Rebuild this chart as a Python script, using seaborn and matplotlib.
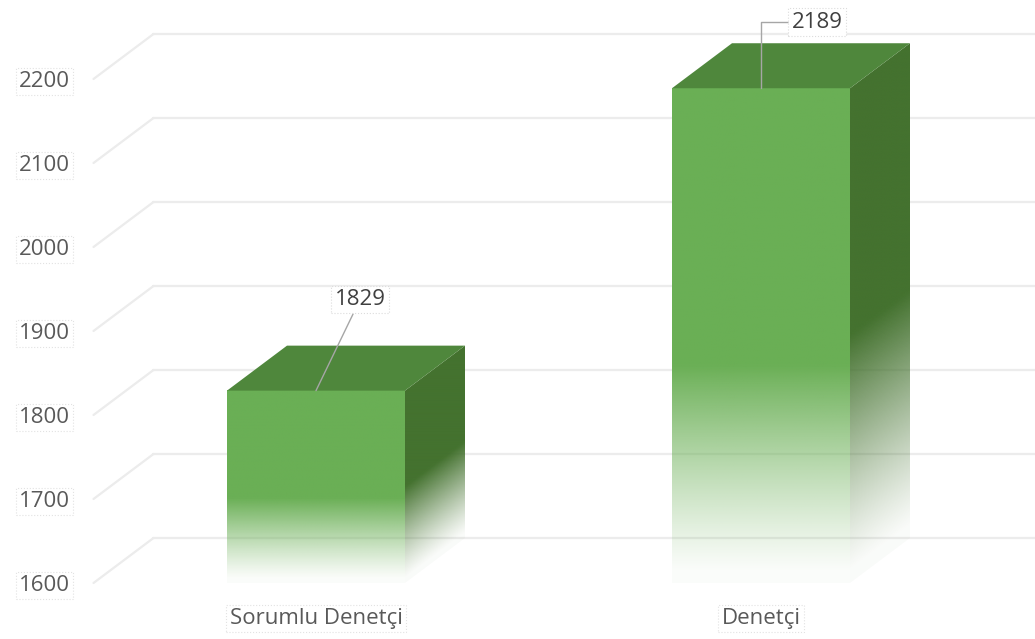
import numpy as np
import matplotlib
matplotlib.use("Agg")
import matplotlib.pyplot as plt
from matplotlib.patches import Polygon
import seaborn as sns

# ─── DATA ─────────────────────────────────────────────────────────────────────
CATEGORIES = ["Sorumlu Denetçi", "Denetçi"]
VALUES     = [1829, 2189]
Y_TICKS    = [1600, 1700, 1800, 1900, 2000, 2100, 2200]
Y_LIMITS   = (1600, 2250)

# ─── STYLE ────────────────────────────────────────────────────────────────────
FRONT_COLOR = "#6aaf55"
TOP_COLOR   = "#4f873c"
SIDE_COLOR  = "#44722f"
GRID_COLOR  = "#ececec"
TEXT_COLOR  = "#595959"
LEADER_COL  = "#a6a6a6"
FONT_SIZE   = 16
DEPTH_PX    = (60, 45)               # 3-D depth offset in pixels (right, up)
LABEL_OFFS  = [(44, 91), (56, 66)]   # data label offsets in pixels
BOX_STYLE   = dict(boxstyle="square,pad=0.15", fc="white", ec="#dcdcdc", ls=":", lw=0.8)

sns.set_theme(style="white")
plt.rcParams["font.family"] = ["Open Sans", "DejaVu Sans"]

fig = plt.figure(figsize=(10.35, 6.39), dpi=100)
ax = fig.add_axes([93.5 / 1035, 56 / 639, 890 / 1035, 546 / 639])

sns.barplot(x=CATEGORIES, y=VALUES, width=0.4, color=FRONT_COLOR, ax=ax, zorder=3)
ax.set_xlim(-0.5, len(CATEGORIES) - 0.5)
ax.set_ylim(*Y_LIMITS)

# pixel depth -> data units
p0 = ax.transData.transform((0, Y_LIMITS[0]))
p1 = ax.transData.transform((1, Y_LIMITS[0] + 100))
dx = DEPTH_PX[0] / (p1[0] - p0[0])
dy = DEPTH_PX[1] / (p1[1] - p0[1]) * 100
ylo = Y_LIMITS[0]
xl, xr = ax.get_xlim()

# ─── BACK WALL GRID ───────────────────────────────────────────────────────────
for t in Y_TICKS:
    ax.plot([xl + dx, xr + dx], [t + dy, t + dy], color=GRID_COLOR, lw=1.6,
            zorder=1, clip_on=False)
    ax.plot([xl, xl + dx], [t, t + dy], color=GRID_COLOR, lw=1.6,
            zorder=1, clip_on=False)


def fade(u, start=0.44):
    a = np.clip(u / start, 0, 1)
    return np.clip(a ** 1.2, 0.03, 1.0)


def rgba_image(color, alpha):
    rgb = np.array(matplotlib.colors.to_rgb(color))
    img = np.ones(alpha.shape + (4,))
    img[..., :3] = rgb
    img[..., 3] = alpha
    return img


# ─── 3-D BARS ─────────────────────────────────────────────────────────────────
for bar, v, off in zip(ax.patches, VALUES, LABEL_OFFS):
    x0 = bar.get_x()
    x1 = x0 + bar.get_width()
    bar.set_visible(False)

    # front face with vertical fade
    u = np.linspace(0, 1, 300)[:, None] * np.ones((1, 2))
    ax.imshow(rgba_image(FRONT_COLOR, fade(u)), extent=(x0, x1, ylo, v),
              origin="lower", aspect="auto", zorder=3, interpolation="bilinear")

    # side face, fade follows the slanted floor edge
    n = 300
    X, Y = np.meshgrid(np.linspace(x1, x1 + dx, n), np.linspace(ylo, v + dy, n))
    tt = (X - x1) / dx
    uu = (Y - ylo - tt * dy) / (v - ylo)
    side_img = ax.imshow(rgba_image(SIDE_COLOR, fade(uu, 0.5)),
                         extent=(x1, x1 + dx, ylo, v + dy), origin="lower",
                         aspect="auto", zorder=3, interpolation="bilinear")
    side_poly = Polygon([(x1, ylo), (x1, v), (x1 + dx, v + dy), (x1 + dx, ylo + dy)],
                        closed=True, fc="none", ec="none", transform=ax.transData)
    ax.add_patch(side_poly)
    side_img.set_clip_path(side_poly)

    # top face
    ax.add_patch(Polygon([(x0, v), (x1, v), (x1 + dx, v + dy), (x0 + dx, v + dy)],
                         closed=True, fc=TOP_COLOR, ec="none", zorder=3, clip_on=False))

    # data label with leader line
    cx = (x0 + x1) / 2
    style = "arc3" if off[1] > 80 else "angle,angleA=0,angleB=90,rad=0"
    ax.annotate(f"{v}", xy=(cx, v), xytext=off, textcoords="offset pixels",
                ha="center", va="center", fontsize=FONT_SIZE, color="#404040",
                bbox=BOX_STYLE, zorder=5, annotation_clip=False,
                arrowprops=dict(arrowstyle="-", color=LEADER_COL, lw=1,
                                shrinkA=0, shrinkB=0, connectionstyle=style))

ax.set_xlim(xl, xr)
ax.set_ylim(*Y_LIMITS)

# ─── AXES ─────────────────────────────────────────────────────────────────────
ax.set_yticks(Y_TICKS)
ax.set_yticklabels([str(t) for t in Y_TICKS])
ax.tick_params(axis="y", length=0, pad=17, labelsize=FONT_SIZE, labelcolor=TEXT_COLOR)
ax.tick_params(axis="x", length=0, pad=18, labelsize=FONT_SIZE, labelcolor=TEXT_COLOR)
for lbl in ax.get_yticklabels() + ax.get_xticklabels():
    lbl.set_bbox(dict(boxstyle="square,pad=0.15", fc="none", ec="#e2e2e2", ls=":", lw=0.8))
ax.set_xlabel("")
ax.set_ylabel("")
for s in ax.spines.values():
    s.set_visible(False)
ax.grid(False)
ax.patch.set_alpha(0)

fig.savefig("out.png", dpi=100, facecolor="white")
